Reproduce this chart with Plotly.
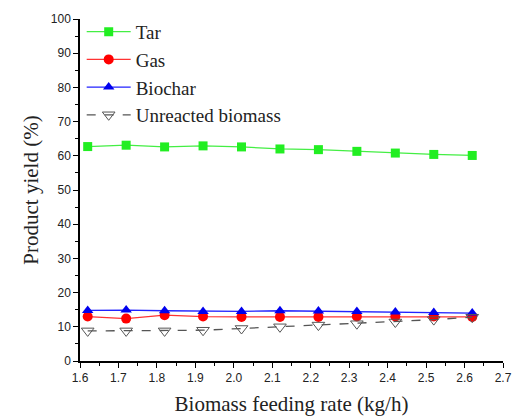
import plotly.graph_objects as go

feed_rate = [1.62, 1.72, 1.82, 1.92, 2.02, 2.12, 2.22, 2.32, 2.42, 2.52, 2.62]
tar = [62.7, 63.1, 62.6, 62.9, 62.6, 62.0, 61.8, 61.3, 60.8, 60.4, 60.1]
gas = [13.0, 12.4, 13.4, 13.0, 12.9, 12.9, 12.9, 13.0, 13.0, 13.0, 12.9]
biochar = [14.8, 14.9, 14.7, 14.5, 14.5, 14.7, 14.6, 14.5, 14.3, 14.2, 14.0]
unreacted = [8.8, 8.8, 8.8, 9.0, 9.5, 10.0, 10.5, 10.9, 11.4, 12.1, 12.8]

x_ticks = [1.6, 1.7, 1.8, 1.9, 2.0, 2.1, 2.2, 2.3, 2.4, 2.5, 2.6, 2.7]
y_ticks = [0, 10, 20, 30, 40, 50, 60, 70, 80, 90, 100]

fig = go.Figure()
fig.add_trace(go.Scatter(x=feed_rate, y=tar, name="Tar", mode="lines+markers", legendgroup="a",
                         line=dict(color="#44ee44", width=1.3),
                         marker=dict(symbol="square", size=9, color="#22ee22")))
fig.add_trace(go.Scatter(x=feed_rate, y=gas, name="Gas", mode="lines+markers", legendgroup="b",
                         line=dict(color="#ff3333", width=1.3),
                         marker=dict(symbol="circle", size=10, color="#ff0000")))
fig.add_trace(go.Scatter(x=feed_rate, y=biochar, name="Biochar", mode="lines+markers", legendgroup="c",
                         line=dict(color="#2222ff", width=1.3),
                         marker=dict(symbol="triangle-up", size=10, color="#0000ee")))
fig.add_trace(go.Scatter(x=feed_rate, y=unreacted, name="Unreacted biomass", mode="lines+markers", legendgroup="d",
                         line=dict(color="#555555", width=1.3, dash="dash"),
                         marker=dict(symbol="triangle-down-open", size=11, color="#555555",
                                     line=dict(width=1))))

axis_common = dict(showline=True, linecolor="black", linewidth=1.5, ticks="outside",
                   ticklen=5, tickwidth=1.2, tickcolor="black", showgrid=False, zeroline=False,
                   tickfont=dict(family="Liberation Sans, Arial", size=12, color="#222"),
                   mirror=False, automargin=False)

fig.update_xaxes(range=[1.6, 2.7], tickvals=x_ticks, tickformat=".1f",
                 minor=dict(ticks="outside", ticklen=3, tickcolor="black", dtick=0.05, tick0=1.6),
                 title=dict(text="Biomass feeding rate (kg/h)", standoff=13,
                            font=dict(family="Liberation Serif, Times New Roman", size=21, color="#222")),
                 **axis_common)
fig.update_yaxes(range=[0, 100], tickvals=y_ticks,
                 minor=dict(ticks="outside", ticklen=3, tickcolor="black", dtick=5, tick0=0),
                 title=dict(text="Product yield (%)", standoff=6,
                            font=dict(family="Liberation Serif, Times New Roman", size=21, color="#222")),
                 **axis_common)

fig.update_layout(
    width=519, height=416,
    margin=dict(l=80, r=16, t=19, b=55),
    plot_bgcolor="white", paper_bgcolor="white",
    showlegend=True,
    legend=dict(x=0.004, y=1.018, xanchor="left", yanchor="top", bgcolor="rgba(0,0,0,0)",
                font=dict(family="Liberation Serif, Times New Roman", size=19, color="#222"),
                traceorder="grouped", tracegroupgap=0, itemwidth=44),
)

fig.write_html("out.html")
